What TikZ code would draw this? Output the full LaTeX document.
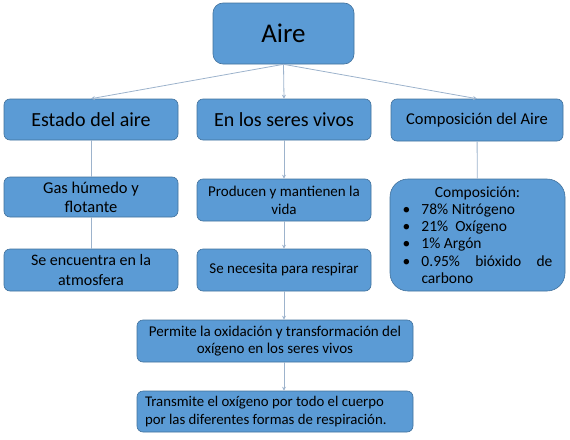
\documentclass[tikz,border=0pt]{standalone}
\usepackage{fontspec}
\setmainfont{Carlito}
\usetikzlibrary{arrows.meta}
\definecolor{boxblue}{HTML}{5B9BD5}
\definecolor{boxedge}{HTML}{41719C}
\definecolor{lineblue}{HTML}{9DB3CC}
\newcommand{\bulitem}[1]{\par\noindent\makebox[19pt][l]{\textbullet}\parbox[t]{131pt}{#1}}
\begin{document}
\begin{tikzpicture}
[x=1pt,y=1pt,
 boxdecorate/.style={shape=rectangle,rounded corners=6pt,draw=boxedge,fill=boxblue,line width=0.6pt,text=black,align=center,inner sep=0pt},
 listdecorate/.style={boxdecorate,rounded corners=18pt},
 linedecorate/.style={-,draw=lineblue,line width=0.8pt},
 arrowdecorate/.style={linedecorate,-{Stealth[length=4pt,width=4pt]}}]
\useasboundingbox (0,0) rectangle (570,-439);
% boxes or nodes
\node (aire) at (283.5,-33.5) [boxdecorate,rounded corners=10pt,minimum width=141pt,minimum height=61pt,font=\fontsize{27}{32}\selectfont] {Aire};
\node (estado) at (91,-119.5) [boxdecorate,minimum width=174pt,minimum height=41pt,font=\fontsize{20}{24}\selectfont] {Estado del aire};
\node (seres) at (284,-119.5) [boxdecorate,minimum width=174pt,minimum height=41pt,font=\fontsize{20}{24}\selectfont] {En los seres vivos};
\node (comp) at (477,-120) [boxdecorate,minimum width=172pt,minimum height=42pt,font=\fontsize{16.5}{20}\selectfont] {Composición del Aire};
\node (gas) at (91,-197) [boxdecorate,minimum width=174pt,minimum height=40pt,font=\fontsize{16.5}{19}\selectfont] {Gas húmedo y\\flotante};
\node (atmos) at (91,-270) [boxdecorate,minimum width=174pt,minimum height=42pt,font=\fontsize{16}{20}\selectfont] {Se encuentra en la\\atmosfera};
\node (vida) at (284,-200) [boxdecorate,minimum width=174pt,minimum height=42pt,font=\fontsize{15}{18}\selectfont] {Producen y mantienen la\\vida};
\node (respirar) at (284,-270) [boxdecorate,minimum width=174pt,minimum height=42pt,font=\fontsize{15}{18}\selectfont] {Se necesita para respirar};
\node (oxida) at (275,-341) [boxdecorate,minimum width=276pt,minimum height=42pt,font=\fontsize{15}{17.5}\selectfont] {Permite la oxidación y transformación del\\oxígeno en los seres vivos};
\node (transmite) at (275,-411.5) [boxdecorate,minimum width=276pt,minimum height=41pt,text width=260pt,align=flush left,font=\fontsize{14.8}{17.5}\selectfont] {Transmite el oxígeno por todo el cuerpo\\por las diferentes formas de respiración.};
\node (lista) at (477.5,-235) [listdecorate,minimum width=175pt,minimum height=112pt,text width=150pt,align=justify,font=\fontsize{15.5}{17.3}\selectfont]
{{\centering Composición:\par}
\bulitem{78\% Nitrógeno}
\bulitem{21\%\ \ Oxígeno}
\bulitem{1\% Argón}
\bulitem{0.95\% bióxido de \mbox{carbono}}};
% connectors or lines
\path
(aire.south) edge[arrowdecorate] (estado.north)
(aire.south) edge[arrowdecorate] (seres.north)
(aire.south) edge[arrowdecorate] (comp.north)
(estado) edge[linedecorate] (gas)
(gas) edge[linedecorate] (atmos)
(comp) edge[linedecorate] (lista)
(seres) edge[arrowdecorate] (vida)
(vida) edge[arrowdecorate] (respirar)
(respirar.south) edge[arrowdecorate] (respirar.south |- oxida.north)
(respirar.south |- oxida.south) edge[arrowdecorate] (respirar.south |- transmite.north);
\end{tikzpicture}
\end{document}
